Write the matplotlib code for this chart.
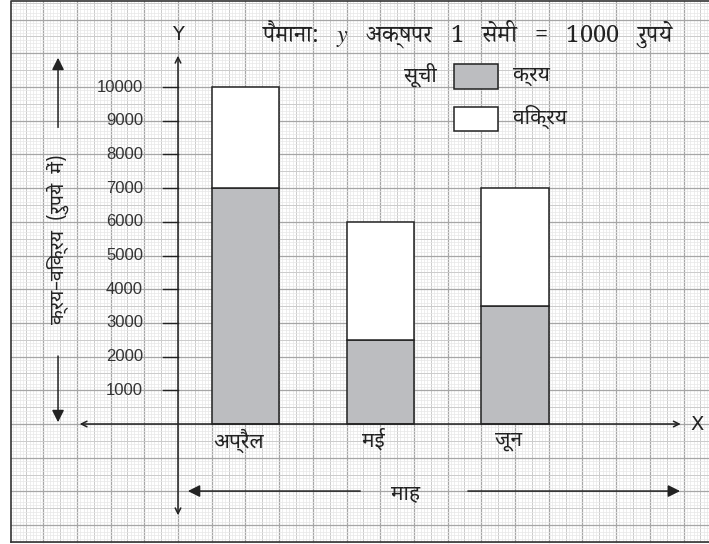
import matplotlib
matplotlib.use("Agg")
import matplotlib.pyplot as plt
import numpy as np

plt.rcParams['mathtext.fontset'] = 'stix'

# ---------------- data ----------------
months = ['अप्रैल', 'मई', 'जून']
purchase = [7000, 2500, 3500]   # क्रय
sale = [3000, 3500, 3500]       # विक्रय
yticks = [1000, 2000, 3000, 4000, 5000, 6000, 7000, 8000, 9000, 10000]
legend_labels = ['क्रय', 'विक्रय']
title_txt = 'पैमाना:   $y$   अक्षपर   1   सेमी   =   1000   रुपये'
ylab_txt = 'क्रय–विक्रय  (रुपये  में)'

DEV = ['Noto Sans Devanagari', 'Lohit Devanagari', 'Noto Sans', 'DejaVu Sans']
DEVSERIF = ['Noto Serif Devanagari', 'Noto Sans Devanagari', 'Liberation Serif', 'DejaVu Serif']

gray = '#bcbdc0'
ink = '#222222'

fig = plt.figure(figsize=(7.09, 5.44), dpi=100)
ax = fig.add_axes([0, 0, 1, 1])
# x in cm, y in rupees (1 cm = 1000)
ax.set_xlim(-178 / 33.7, (709 - 178) / 33.7)
ax.set_ylim(-120 / 33.7 * 1000, 424 / 33.7 * 1000)
ax.axis('off')

# graph paper
x0, x1 = -4.955, 15.76
y0, y1 = -3500, 12550
for k in range(-49, 158):
    xv = k / 10
    if k % 10 == 0:
        c, lw = '#a6a6a6', 0.9
    elif k % 5 == 0:
        c, lw = '#cbcbcb', 0.7
    else:
        c, lw = '#e8e8e8', 0.5
    ax.plot([xv, xv], [y0, y1], color=c, lw=lw, zorder=0)
for k in range(-35, 126):
    yv = k * 100
    if k % 10 == 0:
        c, lw = '#a6a6a6', 0.9
    elif k % 5 == 0:
        c, lw = '#cbcbcb', 0.7
    else:
        c, lw = '#e8e8e8', 0.5
    ax.plot([x0, x1], [yv, yv], color=c, lw=lw, zorder=0)
ax.plot([x0, x0, x1], [y0, y1, y1], color='#333333', lw=1.2, zorder=1)
ax.plot([x0, x1], [y0, y0], color='#333333', lw=1.2, zorder=1)

# bars
xpos = [2 + 4 * i for i in range(len(months))]
ax.bar(xpos, purchase, width=2, color=gray, edgecolor=ink, lw=1.1, zorder=3)
ax.bar(xpos, sale, width=2, bottom=purchase, color='white', edgecolor=ink, lw=1.1, zorder=3)
for xp, m in zip(xpos, months):
    ax.text(xp - 0.2, -500, m, ha='center', va='center', fontsize=15, family=DEV, color=ink)

# axes
ax.annotate('', xy=(15.0, 0), xytext=(-3.0, 0),
            arrowprops=dict(arrowstyle='<->', lw=1.1, color=ink, mutation_scale=10), zorder=4)
ax.annotate('', xy=(0, 11010), xytext=(0, -2790),
            arrowprops=dict(arrowstyle='<->', lw=1.1, color=ink, mutation_scale=10), zorder=4)
ax.text(0, 11550, 'Y', ha='center', va='center', fontsize=14, color=ink)
ax.text(15.4, 0, 'X', ha='center', va='center', fontsize=14, color=ink)

# y ticks
for t in yticks:
    ax.plot([-0.445, 0], [t, t], color=ink, lw=1.0, zorder=4)
    ax.text(-1.04, t, str(t), ha='right', va='center', fontsize=12,
            family='Liberation Sans', color='#333333')

# left label with arrows
ax.annotate('', xy=(-3.56, 10950), xytext=(-3.56, 8720),
            arrowprops=dict(arrowstyle='-|>', lw=1.1, color=ink, mutation_scale=18))
ax.annotate('', xy=(-3.56, -30), xytext=(-3.56, 2100),
            arrowprops=dict(arrowstyle='-|>', lw=1.1, color=ink, mutation_scale=18))
ax.text(-3.56, 5480, ylab_txt, rotation=90, ha='center', va='center', fontsize=14,
        family=DEV, color=ink)

# x label with arrows
ax.annotate('', xy=(0.21, -1990), xytext=(5.49, -1990),
            arrowprops=dict(arrowstyle='-|>', lw=1.1, color=ink, mutation_scale=18))
ax.annotate('', xy=(14.98, -1990), xytext=(8.52, -1990),
            arrowprops=dict(arrowstyle='-|>', lw=1.1, color=ink, mutation_scale=18))
ax.text(6.75, -2050, 'माह', ha='center', va='center', fontsize=15, family=DEV, color=ink)

# scale note
ax.text(2.45, 11550, title_txt, ha='left', va='center', fontsize=17, family=DEVSERIF,
        color=ink)

# legend
ax.text(7.2, 10350, 'सूची', ha='center', va='center', fontsize=15, family=DEV, color=ink)
for i, (lab, fc) in enumerate(zip(legend_labels, [gray, 'white'])):
    yc = 10300 - i * 1250
    ax.add_patch(plt.Rectangle((8.2, yc - 370), 1.3, 740, facecolor=fc, edgecolor=ink,
                               lw=1.1, zorder=3))
    ax.text(9.95, yc + 50, lab, ha='left', va='center', fontsize=15, family=DEV, color=ink)

fig.savefig('out.png', dpi=100)
